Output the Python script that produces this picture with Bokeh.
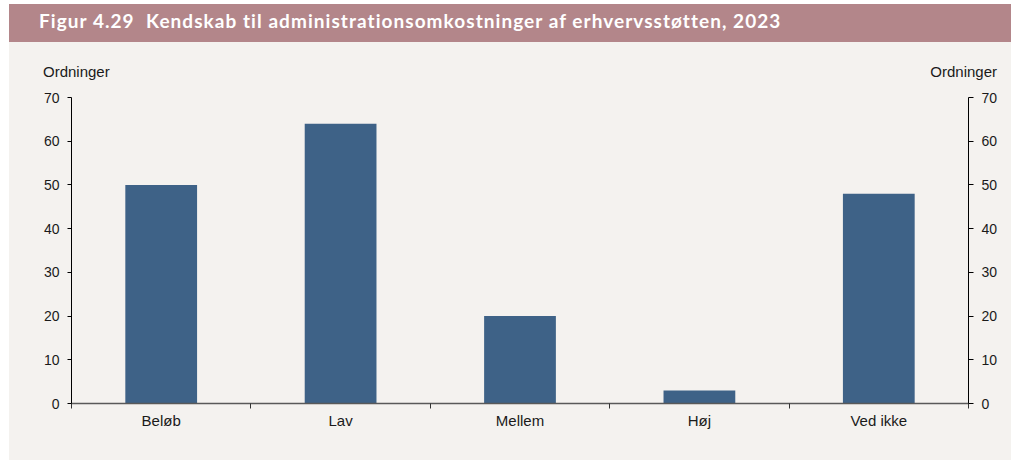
from bokeh.plotting import figure
from bokeh.models import Range1d, LinearAxis, FixedTicker, ColumnDataSource, Div
from bokeh.layouts import column
from bokeh.embed import file_html
from bokeh.resources import INLINE

# ---- data ----
categories = ["Beløb", "Lav", "Mellem", "Høj", "Ved ikke"]
values = [50, 64, 20, 3, 48]
y_ticks = [0, 10, 20, 30, 40, 50, 60, 70]
title_text = "Figur 4.29&nbsp;&nbsp;Kendskab til administrationsomkostninger af erhvervsstøtten, 2023"
axis_unit = "Ordninger"

BG = "#f4f2ef"
BAR = "#3e6287"
TITLE_BG = "#b3868a"
FONT = "Liberation Sans"
TXT = "#1a1a1a"

W = 1002

# ---- title bar ----
title_div = Div(
    text=title_text, width=W, height=38, margin=0,
    styles={"background-color": TITLE_BG, "color": "white", "font-family": "Lato",
            "font-weight": "bold", "font-size": "19px", "letter-spacing": "1.05px",
            "line-height": "33px", "padding-left": "30px", "box-sizing": "border-box",
            "white-space": "nowrap"})

# ---- unit labels row ----
unit_div = Div(
    text=(f'<div style="display:flex;justify-content:space-between;width:954px;">'
          f'<span>{axis_unit}</span><span>{axis_unit}</span></div>'),
    width=W, height=45, margin=0,
    styles={"background-color": BG, "color": TXT, "font-family": FONT,
            "font-size": "15px", "line-height": "18px", "padding-top": "21px",
            "padding-left": "34px", "padding-right": "14px", "box-sizing": "border-box"})

# ---- main chart ----
n = len(categories)
xs = [i + 0.5 for i in range(n)]
src = ColumnDataSource(dict(x=xs, top=values, cat=categories))

p = figure(width=W, height=373, x_range=Range1d(0, n), y_range=Range1d(0, 70),
           toolbar_location=None, output_backend="svg", margin=0,
           min_border_left=62, min_border_right=43, min_border_top=10, min_border_bottom=57)
p.xaxis.visible = False
p.yaxis.visible = False
p.xgrid.visible = False
p.ygrid.visible = False
p.outline_line_color = None
p.background_fill_color = BG
p.border_fill_color = BG

p.vbar(x="x", top="top", width=0.4, bottom=0, source=src, fill_color=BAR, line_color=None)

# x axis: labels at category centres, ticks at category boundaries
xa = LinearAxis(ticker=FixedTicker(ticks=xs, minor_ticks=list(range(n + 1))),
                major_label_overrides={float(x): c for x, c in zip(xs, categories)})
xa.axis_line_color = "#595959"
xa.axis_line_width = 1.5
xa.major_tick_out = 0
xa.major_tick_in = 0
xa.minor_tick_out = 5
xa.minor_tick_in = 0
xa.minor_tick_line_color = "#333333"
xa.major_label_standoff = 3
xa.major_label_text_font = FONT
xa.major_label_text_font_size = "15px"
xa.major_label_text_color = TXT
p.add_layout(xa, "below")

# y axes
for side in ("left", "right"):
    ya = LinearAxis(ticker=FixedTicker(ticks=y_ticks, minor_ticks=[]))
    ya.axis_line_color = "black"
    ya.major_tick_line_color = "black"
    ya.major_tick_out = 4 if side == "left" else 5
    ya.major_tick_in = 0
    ya.minor_tick_line_color = None
    ya.major_label_standoff = 8
    ya.major_label_text_font = FONT
    ya.major_label_text_font_size = "14px"
    ya.major_label_text_color = TXT
    p.add_layout(ya, side)

layout = column(title_div, unit_div, p, spacing=0, margin=(4, 8, 0, 9),
                styles={"background-color": BG})
open("out.html", "w").write(file_html(layout, INLINE))
